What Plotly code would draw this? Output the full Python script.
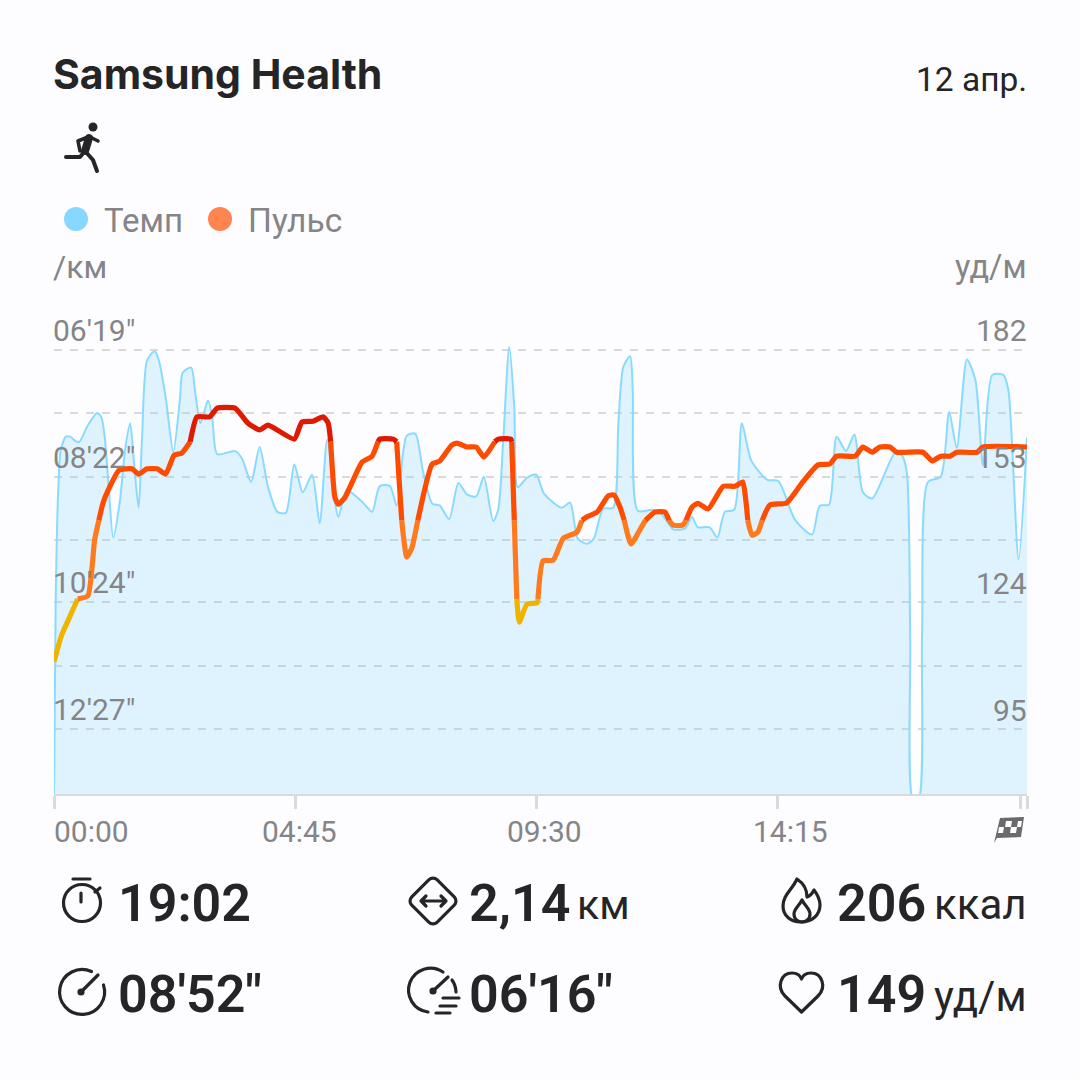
import base64

import plotly.graph_objects as go

# seconds since start / pace in seconds per km
pace_t = [0, 2, 5, 8, 14, 19, 25, 30, 40, 51, 56, 60, 64, 70, 78, 84, 90, 95, 100, 104,
          110, 119, 124, 132, 141, 149, 152, 162, 167, 173, 182, 187, 193, 214, 222, 233, 243, 253, 264, 274,
          284, 294, 305, 314, 323, 336, 346, 365, 376, 385, 397, 405, 413, 417, 427, 436, 447, 456, 467, 478,
          488, 499, 508, 519, 525, 531, 538, 544, 548, 559, 570, 579, 600, 610, 619, 630, 638, 649, 661, 667,
          673, 681, 684, 690, 708, 719, 732, 746, 754, 761, 775, 784, 793, 804, 813, 824, 843, 856, 876, 896,
          905, 916, 925, 936, 946, 956, 967, 994, 1002, 1008, 1012, 1015, 1022, 1026, 1033, 1048, 1058, 1067, 1079, 1089,
          1098, 1109, 1122, 1128, 1140, 1150]
pace_v = [810, 622, 515, 476, 463, 463, 467, 468, 452, 440, 444, 464, 505, 561, 525, 476, 450, 493, 532, 466,
          389, 380, 389, 425, 478, 425, 401, 396, 421, 450, 428, 444, 480, 477, 484, 507, 473, 512, 536, 537,
          490, 517, 500, 547, 466, 541, 515, 527, 536, 511, 511, 530, 476, 462, 460, 496, 528, 530, 543, 508,
          519, 521, 502, 545, 534, 466, 376, 434, 512, 503, 500, 518, 532, 527, 562, 567, 562, 533, 532, 450,
          395, 385, 418, 535, 534, 539, 553, 552, 541, 551, 551, 561, 536, 534, 450, 486, 505, 506, 544, 558,
          530, 529, 463, 477, 461, 517, 523, 479, 481, 498, 658, 815, 815, 654, 507, 502, 439, 474, 388, 408,
          491, 403, 403, 418, 582, 464]

hr_t = [0, 9, 19, 28, 40, 45, 48, 53, 58, 64, 77, 92, 100, 110, 122, 132, 142, 151, 160, 161,
        169, 184, 193, 214, 229, 243, 253, 284, 293, 306, 318, 324, 327, 332, 336, 344, 364, 376, 383, 385,
        401, 405, 411, 417, 423, 430, 447, 456, 470, 476, 488, 499, 508, 521, 525, 540, 541, 544, 547, 550,
        559, 571, 572, 578, 590, 602, 618, 624, 630, 642, 655, 662, 669, 674, 682, 693, 699, 710, 722, 727,
        732, 743, 747, 754, 761, 773, 791, 805, 814, 818, 820, 825, 832, 837, 846, 866, 885, 903, 917, 925,
        947, 956, 967, 976, 988, 996, 1027, 1038, 1048, 1059, 1067, 1091, 1098, 1150]
hr_v = [110.6, 116.7, 121.1, 125, 125.7, 132.3, 138.5, 143, 147, 149.9, 154.5, 154.8, 153.6, 154.8, 154.8, 153.6, 157.9, 158.4, 160.7, 161,
        166.7, 166.7, 168.7, 168.7, 165.3, 163.7, 164.8, 161.6, 165.5, 165.7, 166.7, 165.3, 161, 148.3, 146.7, 148.3, 156.3, 157.7, 161, 161.6,
        161.6, 161, 143, 134.6, 136.7, 143, 155.9, 156.6, 160.2, 160.7, 159.8, 159.8, 157.5, 161, 161.6, 161.6, 161, 143, 125, 119.7,
        123.8, 124.1, 125, 133.7, 133.9, 138.9, 140.3, 143, 143.8, 144.9, 148.6, 148.8, 146, 143, 137.6, 141, 143, 144.9, 144.9, 143,
        141.9, 141.9, 143, 146, 146.9, 145.6, 150.8, 150.8, 151.8, 147, 143, 139.6, 140.3, 143, 146.5, 147, 151.8, 155.7, 155.9, 157.7,
        157.7, 159.8, 158.6, 159.8, 159.8, 158.6, 158.6, 156.6, 157.7, 157.7, 158.6, 158.6, 159.8, 159.8]

# heart rate zones, colour changes at these values
hr_limits = [125, 143, 161]
hr_colors = ["#F0B400", "#FF7A1F", "#FF4B00", "#E01A00"]

pace_ticks = [379, 502, 624, 747]
pace_labels = ["06'19\"", "08'22\"", "10'24\"", "12'27\""]
pace_grid = [379, 440.5, 502, 563, 624, 685.5, 747]
hr_ticks = [182, 153, 124, 95]
time_ticks = [0, 285, 570, 855, 1142, 1150]
time_labels = ["00:00", "04:45", "09:30", "14:15"]

stats_top = ["19:02", "2,14", "206"]
stats_bottom = ["08'52\"", "06'16\"", "149"]

BG = "#FDFDFF"
DARK = "#252527"
GREY = "#858587"
FONT = "Roboto"
PACE_RANGE = [810, 340]
HR_RANGE = [80.35, 191.16]


def band(value):
    for i, limit in enumerate(hr_limits):
        if value <= limit:
            return i
    return len(hr_limits)


def px(x):
    return x / 1080


def py(y):
    return 1 - y / 1080


def label(text, x, y, size, color=GREY, anchor="left", weight=400, family=FONT):
    return dict(text=text, x=px(x), y=py(y), xref="paper", yref="paper", xanchor=anchor, yanchor="middle",
                showarrow=False, borderpad=0, borderwidth=0,
                font=dict(family=family, size=size, color=color, weight=weight))


ICONS = """
<svg xmlns="http://www.w3.org/2000/svg" width="1080" height="1080" viewBox="0 0 1080 1080">
<g fill="none" stroke="#252527" stroke-width="3.2" stroke-linecap="round" stroke-linejoin="round">
<circle cx="93" cy="127" r="4.5" fill="#252527" stroke="none"/>
<path d="M89 138 L85 151" stroke-width="8"/>
<path d="M88 137 L78 141 L80 151 M92 138 L98 141" stroke-width="3.6"/>
<path d="M85 151 L80 157 L66 157 M85 151 L93 160 L97 171" stroke-width="4"/>
<circle cx="82" cy="903" r="18.5"/>
<path d="M73 879 H90 M81 893 V902 M95 892 L100 888"/>
<rect x="415" y="883" width="36" height="36" rx="6" transform="rotate(45 433 901)"/>
<path d="M421 901 H446 M426 896 L421 901 L426 906 M441 896 L446 901 L441 906"/>
<path d="M797 879 C792 890 783 895 783 906 C783 916 791 922 801 922 C812 922 820 915 820 905 C820 899 817 894 814 890 C812 894 810 896 807 897 C807 889 803 883 797 879 Z"/>
<path d="M802 900 C799 906 794 909 794 914 C794 919 798 922 802 922 C806 922 810 919 810 914 C810 909 805 906 802 900 Z"/>
<path d="M91.5 971.5 A22.5 22.5 0 1 0 103.5 985 M81 992 L98 975"/>
<circle cx="81" cy="992" r="3.6" fill="#252527" stroke="none"/>
<path d="M443 972 A22 22 0 1 0 428 1012 M433 991 L448 977 M452 980 A22 22 0 0 1 456 992 M443 998 H459 M440 1006 H456 M436 1013 H450"/>
<circle cx="433" cy="991" r="3.6" fill="#252527" stroke="none"/>
<path d="M801.5 1012 L785 996 C776 987 781 973 792 973 C797 973 800 975 801.5 979 C803 975 806 973 811 973 C822 973 827 987 818 996 Z"/>
</g>
<path d="M1000 818 L1024 817 L1021 837 L997 838 L994 843 Z" fill="#6A6A6C"/>
<path d="M1006 821 L1012 821 L1011 827 L1005 827 Z M1018 821 L1022 821 L1021 827 L1017 827 Z M1004 827 L999 827 L998 833 L1003 833 Z M1011 827 L1017 827 L1016 833 L1010 833 Z" fill="#FDFDFF"/>
</svg>
"""

fig = go.Figure()

# invisible floor for the pace fill
fig.add_trace(go.Scatter(x=pace_t, y=[PACE_RANGE[0]] * len(pace_t), mode="lines",
                         line=dict(width=0), hoverinfo="skip", showlegend=False))
fig.add_trace(go.Scatter(x=pace_t, y=pace_v, mode="lines", name="Темп",
                         line=dict(color="#8ADAFF", width=2, shape="spline", smoothing=0.7),
                         fill="tonexty", fillcolor="rgba(135,215,255,0.25)", showlegend=False))

# one trace per zone, runs separated with None
for zone, color in enumerate(hr_colors):
    xs, ys = [], []
    last = None
    for i in range(len(hr_t) - 1):
        if band((hr_v[i] + hr_v[i + 1]) / 2) != zone:
            continue
        if last != i:
            if xs:
                xs.append(None)
                ys.append(None)
            xs.append(hr_t[i])
            ys.append(hr_v[i])
        xs.append(hr_t[i + 1])
        ys.append(hr_v[i + 1])
        last = i + 1
    fig.add_trace(go.Scatter(x=xs, y=ys, yaxis="y2", mode="lines", name="Пульс",
                             line=dict(color=color, width=5.2, shape="spline", smoothing=0.5),
                             connectgaps=False, showlegend=False))

annotations = [
    label("Samsung Health", 53, 74, 41, DARK, weight=700, family="Inter"),
    label("12 апр.", 1027, 79, 33.5, DARK, anchor="right"),
    label("Темп", 104, 220, 33),
    label("Пульс", 248, 220, 33.5),
    label("/км", 53, 267, 32),
    label("уд/м", 1027, 267, 32.5, anchor="right"),
]
for tick, text in zip(pace_ticks, pace_labels):
    annotations.append(dict(text=text, x=px(53), y=tick, xref="paper", yref="y", xanchor="left", yanchor="bottom",
                            yshift=2, showarrow=False, borderpad=0, borderwidth=0,
                            font=dict(family=FONT, size=30, color=GREY)))
for tick in hr_ticks:
    annotations.append(dict(text=str(tick), x=px(1027), y=tick, xref="paper", yref="y2", xanchor="right", yanchor="bottom",
                            yshift=2, showarrow=False, borderpad=0, borderwidth=0,
                            font=dict(family=FONT, size=30, color=GREY)))
for text, x in zip(time_labels, [91.5, 299, 544.5, 790]):
    annotations.append(label(text, x, 831, 30, anchor="center"))
for text, x in zip(stats_top, [118, 469, 837]):
    annotations.append(label(text, x, 903, 52, DARK, weight=600))
for text, x in zip(stats_bottom, [118, 469, 837]):
    annotations.append(label(text, x, 994, 52, DARK, weight=600))
annotations.append(label("км", 577, 905, 41, DARK))
annotations.append(label("ккал", 1027, 905, 42, DARK, anchor="right"))
annotations.append(label("уд/м", 1027, 996, 42, DARK, anchor="right"))

shapes = []
for x, color in [(76, "#87D8FF"), (220, "#FF8450")]:
    shapes.append(dict(type="circle", xref="paper", yref="paper", x0=px(x - 12), x1=px(x + 12),
                       y0=py(219 + 12), y1=py(219 - 12), fillcolor=color, line=dict(width=0)))

fig.update_layout(
    width=1080,
    height=1080,
    margin=dict(l=0, r=0, t=0, b=0),
    paper_bgcolor=BG,
    plot_bgcolor=BG,
    showlegend=False,
    annotations=annotations,
    shapes=shapes,
    images=[dict(source="data:image/svg+xml;base64," + base64.b64encode(ICONS.encode()).decode(),
                 xref="paper", yref="paper", x=0, y=1, sizex=1, sizey=1,
                 xanchor="left", yanchor="top", sizing="stretch", layer="above")],
    xaxis=dict(domain=[px(54), px(1027)], range=[0, 1150], tickvals=time_ticks, showticklabels=False,
               ticks="outside", ticklen=13, tickwidth=2.5, tickcolor="#D8DADC",
               showline=True, linecolor="#D8DADC", linewidth=2, showgrid=False, zeroline=False),
    yaxis=dict(domain=[py(794), py(310)], range=PACE_RANGE, tickvals=pace_grid, showticklabels=False,
               showgrid=True, gridcolor="#D9D9DB", gridwidth=2, griddash="8px,8px", zeroline=False, showline=False),
    yaxis2=dict(domain=[py(794), py(310)], range=HR_RANGE, overlaying="y", side="right",
                showticklabels=False, showgrid=False, zeroline=False, showline=False),
)

fig.write_html("out.html", config=dict(displayModeBar=False),
               post_script="document.body.style.margin='0';document.body.style.overflow='hidden';")
